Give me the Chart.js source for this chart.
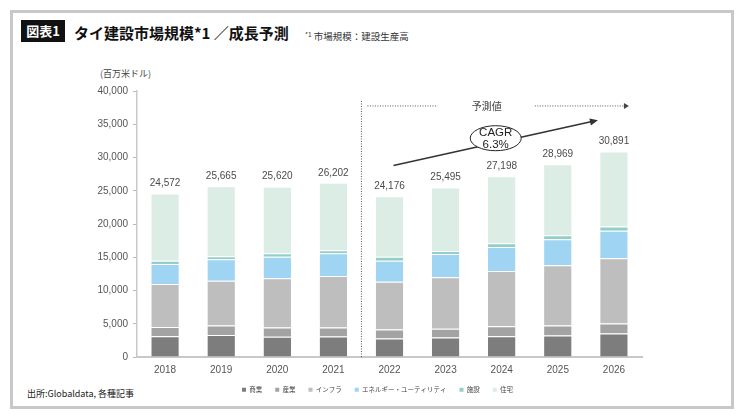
<!DOCTYPE html>
<html lang="ja">
<head>
<meta charset="utf-8">
<title>タイ建設市場規模 / 成長予測</title>
<script src="https://cdn.jsdelivr.net/npm/chart.js@4.4.1/dist/chart.umd.min.js"></script>
<style>
    body { margin: 0; background: #fff; }
    #wrap { position: relative; width: 740px; height: 418px; overflow: hidden; font-family: "Noto Sans CJK JP", sans-serif; }
    #frame { position: absolute; left: 10px; top: 10px; width: 724px; height: 399px; border: 3px solid #c8c8c8; box-sizing: border-box; }
    #chart { position: absolute; left: 0; top: 0; }
    .txt { position: absolute; white-space: nowrap; line-height: 1; }
    #badge { left: 21px; top: 20px; width: 44px; height: 22px; background: #111; color: #fff; font-weight: bold; font-size: 13px; line-height: 22px; text-align: center; }
    #title { left: 74px; top: 25px; font-size: 15px; font-weight: bold; color: #111; }
    #note { left: 305px; top: 31px; font-size: 9.5px; color: #333; }
    #note sup { font-size: 6.5px; vertical-align: 3px; }
    #unit { left: 100px; top: 69px; font-size: 9px; color: #444; }
    #source { left: 27px; top: 389px; font-size: 9px; color: #222; }
</style>
</head>
<body>
<div id="wrap">
    <div id="frame"></div>
    <div class="txt" id="badge">図表1</div>
    <div class="txt" id="title">タイ建設市場規模*1 ／成長予測</div>
    <div class="txt" id="note"><sup>*1</sup> 市場規模：建設生産高</div>
    <div class="txt" id="unit">(百万米ドル)</div>
    <div class="txt" id="source">出所:Globaldata, 各種記事</div>
    <canvas id="chart" width="740" height="418"></canvas>
</div>
<script>
// years on the x axis
const years = ['2018', '2019', '2020', '2021', '2022', '2023', '2024', '2025', '2026'];

// segments (百万米ドル)
const commercial     = [3120, 3300, 3050, 3100, 2780, 2930, 3120, 3230, 3530];
const industrial     = [1410, 1440, 1390, 1340, 1350, 1300, 1510, 1510, 1510];
const infrastructure = [6440, 6730, 7390, 7740, 7190, 7750, 8300, 9050, 9810];
const energy         = [3020, 3230, 3260, 3420, 3170, 3520, 3620, 3930, 4120];
const institutional  = [500, 450, 510, 450, 600, 450, 560, 600, 650];
const residential    = [10082, 10515, 10020, 10152, 9086, 9545, 10088, 10649, 11271];

// totals printed above the bars
const totals = [24572, 25665, 25620, 26202, 24176, 25495, 27198, 28969, 30891];

const seriesNames = ['商業', '産業', 'インフラ', 'エネルギー・ユーティリティ', '施設', '住宅'];
const seriesColors = ['#7d7d7d', '#a3a3a3', '#bebebe', '#9fd4f2', '#93cfc7', '#dcede5'];

const yMax = 40000;
const yStep = 5000;
const cagrText = ['CAGR', '6.3%'];
const forecastLabel = '予測値';

Chart.defaults.font.family = '"Liberation Sans", "Noto Sans CJK JP", sans-serif';

const seriesData = [commercial, industrial, infrastructure, energy, institutional, residential];

function drawLine(ctx, x1, y1, x2, y2) {
    ctx.beginPath();
    ctx.moveTo(x1, y1);
    ctx.lineTo(x2, y2);
    ctx.stroke();
}

const annotations = {
    id: 'annotations',
    afterDatasetsDraw(chart) {
        const { ctx, chartArea } = chart;
        const x = chart.scales.x;
        const y = chart.scales.y;
        ctx.save();

        // totals
        ctx.font = '10px "Liberation Sans", sans-serif';
        ctx.fillStyle = '#4a4a4a';
        ctx.textAlign = 'center';
        ctx.textBaseline = 'bottom';
        totals.forEach((t, i) => {
            ctx.fillText(t.toLocaleString('en-US'), x.getPixelForValue(i), y.getPixelForValue(t) - 5);
        });

        // forecast separator
        const sepX = (x.getPixelForValue(3) + x.getPixelForValue(4)) / 2;
        ctx.strokeStyle = '#555';
        ctx.lineWidth = 1;
        ctx.setLineDash([1, 1.5]);
        drawLine(ctx, sepX, y.getPixelForValue(38500), sepX, chartArea.bottom);

        const yH = y.getPixelForValue(37750);
        drawLine(ctx, sepX + 6, yH, x.getPixelForValue(5) - 8, yH);
        const arrowEnd = x.getPixelForValue(8) + 15;
        drawLine(ctx, x.getPixelForValue(7) - 23, yH, arrowEnd - 4, yH);
        ctx.setLineDash([]);
        ctx.fillStyle = '#444';
        ctx.beginPath();
        ctx.moveTo(arrowEnd, yH);
        ctx.lineTo(arrowEnd - 5, yH - 3);
        ctx.lineTo(arrowEnd - 5, yH + 3);
        ctx.closePath();
        ctx.fill();

        ctx.font = '10px "Noto Sans CJK JP", sans-serif';
        ctx.fillStyle = '#444';
        ctx.textBaseline = 'middle';
        ctx.fillText(forecastLabel, x.getPixelForValue(6) - 15, yH);

        // CAGR arrow
        const ax1 = x.getPixelForValue(4) + 4, ay1 = y.getPixelForValue(28800);
        const ax2 = x.getPixelForValue(8) - 16, ay2 = y.getPixelForValue(35600);
        ctx.strokeStyle = '#333';
        ctx.lineWidth = 1.6;
        drawLine(ctx, ax1, ay1, ax2 - 6, ay2 + 1.3);
        const ang = Math.atan2(ay2 - ay1, ax2 - ax1);
        ctx.fillStyle = '#333';
        ctx.beginPath();
        ctx.moveTo(ax2, ay2);
        ctx.lineTo(ax2 - 8 * Math.cos(ang) + 3.5 * Math.sin(ang), ay2 - 8 * Math.sin(ang) - 3.5 * Math.cos(ang));
        ctx.lineTo(ax2 - 8 * Math.cos(ang) - 3.5 * Math.sin(ang), ay2 - 8 * Math.sin(ang) + 3.5 * Math.cos(ang));
        ctx.closePath();
        ctx.fill();

        const ex = x.getPixelForValue(6) - 6, ey = y.getPixelForValue(32900);
        ctx.beginPath();
        ctx.ellipse(ex, ey, 25.5, 12.5, 0, 0, Math.PI * 2);
        ctx.fillStyle = '#fff';
        ctx.fill();
        ctx.strokeStyle = '#222';
        ctx.lineWidth = 1;
        ctx.stroke();
        ctx.fillStyle = '#222';
        ctx.font = '11.5px "Liberation Sans", sans-serif';
        ctx.fillText(cagrText[0], ex, ey - 5.5);
        ctx.fillText(cagrText[1], ex, ey + 7);

        ctx.restore();
    }
};

new Chart(document.getElementById('chart'), {
    type: 'bar',
    data: {
        labels: years,
        datasets: seriesNames.map((name, i) => ({
            label: name,
            data: seriesData[i],
            backgroundColor: seriesColors[i],
            borderColor: '#ffffff',
            borderWidth: { top: 1, left: 0, right: 0, bottom: 0 },
            borderSkipped: false,
            barPercentage: 0.49,
            categoryPercentage: 1
        }))
    },
    options: {
        responsive: false,
        animation: false,
        devicePixelRatio: 1,
        layout: { padding: { left: 97, right: 82, top: 91, bottom: 15 } },
        scales: {
            x: {
                stacked: true,
                grid: { display: false, drawTicks: false },
                border: { color: '#c8c8c8', width: 2 },
                ticks: { color: '#555', font: { size: 10 }, padding: 7, maxRotation: 0 },
                afterFit(scale) { scale.height = 16.5; }
            },
            y: {
                stacked: true,
                min: 0,
                max: yMax,
                grid: { drawOnChartArea: false, tickLength: 4, color: '#bbb' },
                border: { color: '#c8c8c8', width: 1.5 },
                ticks: {
                    stepSize: yStep,
                    color: '#555',
                    font: { size: 10 },
                    padding: 5,
                    callback: v => v.toLocaleString('en-US')
                },
                afterFit(scale) { scale.width = 40; }
            },
            // empty right-hand spacer so the legend centres like the original
            spacer: {
                position: 'right',
                grid: { display: false },
                border: { display: false },
                ticks: { display: false },
                afterFit(scale) { scale.width = 16; }
            }
        },
        plugins: {
            tooltip: { enabled: false },
            legend: {
                position: 'bottom',
                labels: {
                    boxWidth: 4,
                    boxHeight: 4,
                    padding: 13,
                    color: '#444',
                    font: { size: 6.5 },
                    generateLabels(chart) {
                        const items = Chart.defaults.plugins.legend.labels.generateLabels(chart);
                        items.forEach(it => { it.lineWidth = 0; it.strokeStyle = it.fillStyle; });
                        return items;
                    }
                }
            }
        }
    },
    plugins: [annotations]
});
</script>
</body>
</html>
